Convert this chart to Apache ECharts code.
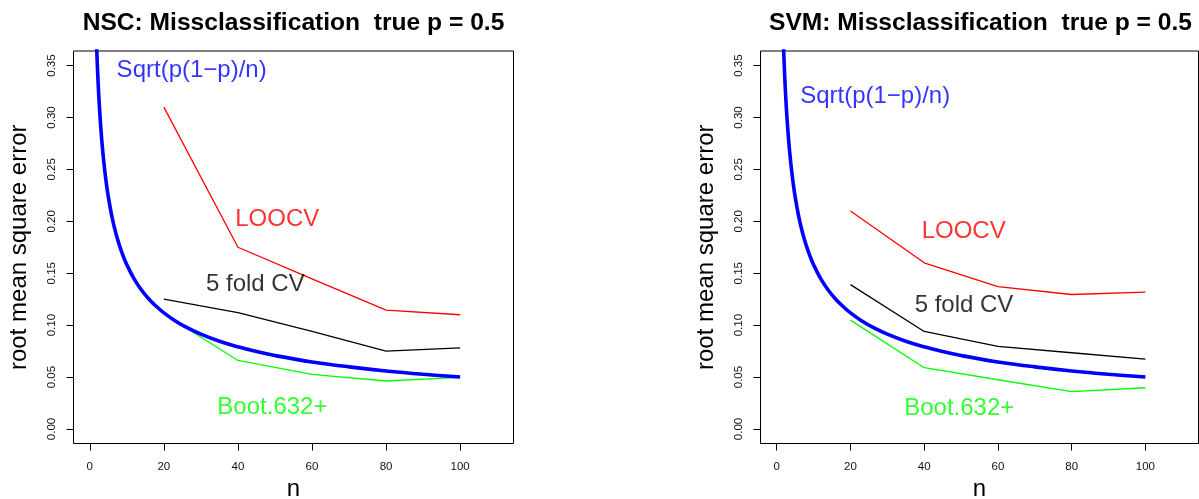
<!DOCTYPE html>
<html>
<head>
<meta charset="utf-8">
<script src="https://cdn.jsdelivr.net/npm/echarts@6/dist/echarts.min.js"></script>
<style>
html,body{margin:0;padding:0;background:#fff;}
#chart{width:1199px;height:499px;}
</style>
</head>
<body>
<div id="chart"></div>
<script>
// ---- data ----
const nValues = [20, 40, 60, 80, 100];

const nscLoocv = [0.310, 0.175, 0.1445, 0.1145, 0.110];
const nscFold5 = [0.125, 0.112, 0.094, 0.075, 0.078];
const nscBoot  = [0.111, 0.066, 0.0526, 0.0462, 0.0497];

const svmLoocv = [0.210, 0.160, 0.137, 0.1295, 0.1317];
const svmFold5 = [0.139, 0.0939, 0.0795, 0.0734, 0.0673];
const svmBoot  = [0.1048, 0.059, 0.0474, 0.0359, 0.0397];

// Sqrt(p(1-p)/n) curve
const curveN    = [1.85, 2, 2.25, 2.5, 2.75, 3, 3.5, 4, 4.5, 5, 6, 7, 8, 9, 10, 12, 14, 16, 18, 20, 23, 26, 30, 35, 40, 45, 50, 60, 70, 80, 90, 100];
const curveRmse = [0.3676, 0.3536, 0.3333, 0.3162, 0.3015, 0.2887, 0.2673, 0.2500, 0.2357, 0.2236, 0.2041, 0.1890, 0.1768, 0.1667, 0.1581, 0.1443, 0.1336, 0.1250, 0.1179, 0.1118, 0.1043, 0.0981, 0.0913, 0.0845, 0.0791, 0.0745, 0.0707, 0.0645, 0.0598, 0.0559, 0.0527, 0.0500];

const xTicks = [0, 20, 40, 60, 80, 100];
const yTicks = [0, 0.05, 0.10, 0.15, 0.20, 0.25, 0.30, 0.35];

const panelTitles = ['NSC: Missclassification  true p = 0.5', 'SVM: Missclassification  true p = 0.5'];
const xName = 'n';
const yName = 'root mean square error';

// text annotations [n, value, text]
const nscNotes = [[27.5, 0.345, 'Sqrt(p(1\u2212p)/n)'], [50.6, 0.2018, 'LOOCV'], [44.7, 0.139, '5 fold CV'], [49.3, 0.0204, 'Boot.632+']];
const svmNotes = [[26.7, 0.320, 'Sqrt(p(1\u2212p)/n)'], [50.7, 0.190, 'LOOCV'], [50.8, 0.119, '5 fold CV'], [49.5, 0.0200, 'Boot.632+']];

// ---- chart ----
const FONT = '"Liberation Sans", Arial, Helvetica, sans-serif';
const noteColors = ['#0000ff', '#ff0000', '#000000', '#00ff00'];
const zip = (a, b) => a.map((v, i) => [v, b[i]]);

const grids = [
  {left: 73.5, top: 51, width: 440, height: 392.5},
  {left: 760.5, top: 51, width: 438, height: 392.5}
];
grids.forEach(g => {
  g.show = true; g.borderColor = '#000'; g.borderWidth = 1; g.backgroundColor = 'transparent';
  g.containLabel = false; g.outerBoundsMode = 'none';
});

function makeX(i) {
  return {
    type: 'value', gridIndex: i, min: -4.4, max: 114.4,
    name: xName, nameLocation: 'middle', nameGap: 46,
    nameTextStyle: {fontFamily: FONT, fontSize: 24, color: '#000', verticalAlign: 'middle'},
    axisLine: {show: false, onZero: false},
    axisTick: {show: true, inside: false, length: 7, customValues: xTicks, lineStyle: {color: '#000', width: 1}},
    axisLabel: {show: true, customValues: xTicks, margin: 17, fontFamily: FONT, fontSize: 11.5, color: '#111'},
    splitLine: {show: false}
  };
}
function makeY(i) {
  return {
    type: 'value', gridIndex: i, min: -0.014, max: 0.364,
    name: yName, nameLocation: 'middle', nameGap: 54, nameRotate: 90,
    nameTextStyle: {fontFamily: FONT, fontSize: 24, color: '#000', verticalAlign: 'middle', align: 'center'},
    axisLine: {show: false, onZero: false},
    axisTick: {show: true, inside: false, length: 7, customValues: yTicks, lineStyle: {color: '#000', width: 1}},
    axisLabel: {show: true, customValues: yTicks, rotate: 90, margin: 21.5, align: 'center', verticalAlign: 'middle',
      fontFamily: FONT, fontSize: 11.5, color: '#111', formatter: v => v.toFixed(2)},
    splitLine: {show: false}
  };
}

function lineSeries(i, data, color, width, z) {
  return {type: 'line', xAxisIndex: i, yAxisIndex: i, data: data, symbol: 'none', showSymbol: false,
    lineStyle: {color: color, width: width}, itemStyle: {color: color}, z: z, silent: true, animation: false};
}
function noteSeries(i, notes) {
  return notes.map((nt, k) => ({
    type: 'scatter', xAxisIndex: i, yAxisIndex: i, data: [[nt[0], nt[1]]], symbolSize: 1,
    itemStyle: {color: 'rgba(0,0,0,0)'}, silent: true, animation: false, z: 5,
    label: {show: true, position: 'inside', formatter: nt[2], color: noteColors[k], fontFamily: FONT, fontSize: 24}
  }));
}

const series = [];
[[nscLoocv, nscFold5, nscBoot, nscNotes], [svmLoocv, svmFold5, svmBoot, svmNotes]].forEach((p, i) => {
  series.push(lineSeries(i, zip(nValues, p[0]), '#ff0000', 1.3, 2));
  series.push(lineSeries(i, zip(nValues, p[1]), '#000000', 1.3, 2));
  series.push(lineSeries(i, zip(nValues, p[2]), '#00ff00', 1.3, 2));
  const c = lineSeries(i, zip(curveN, curveRmse), '#0000ff', 3.6, 3);
  c.smooth = 0.4;
  series.push(c);
  noteSeries(i, p[3]).forEach(s => series.push(s));
});

const chart = echarts.init(document.getElementById('chart'), null, {renderer: 'canvas'});
chart.setOption({
  animation: false,
  backgroundColor: '#fff',
  title: [
    {text: panelTitles[0], left: 293.5, top: 11, textAlign: 'center', padding: 0,
      textStyle: {fontFamily: FONT, fontSize: 24.6, fontWeight: 'bold', color: '#000'}},
    {text: panelTitles[1], left: 980.5, top: 11, textAlign: 'center', padding: 0,
      textStyle: {fontFamily: FONT, fontSize: 24.6, fontWeight: 'bold', color: '#000'}}
  ],
  grid: grids,
  xAxis: [makeX(0), makeX(1)],
  yAxis: [makeY(0), makeY(1)],
  series: series
});
</script>
</body>
</html>
